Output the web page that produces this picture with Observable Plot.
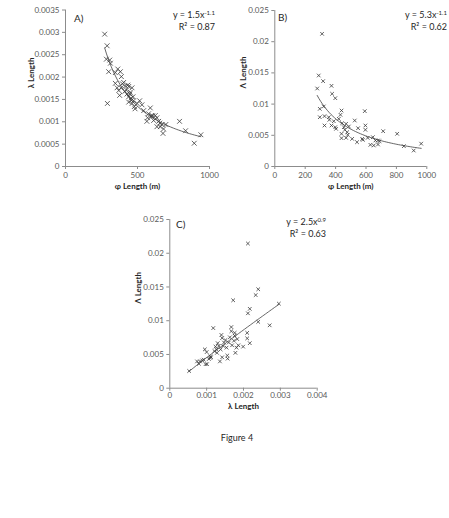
<!DOCTYPE html>
<html>
<head>
<meta charset="utf-8">
<script src="https://cdn.jsdelivr.net/npm/d3@7"></script>
<script src="https://cdn.jsdelivr.net/npm/@observablehq/plot@0.6"></script>
<style>
  html, body { margin: 0; padding: 0; background: #fff; }
  #wrap { position: relative; width: 449px; height: 518px; background: #fff; font-family: Lato, "Open Sans", sans-serif; color: #262626; }
  .panel { position: absolute; }
  .lbl { position: absolute; font-size: 10px; color: #262626; }
  .eq { position: absolute; font-size: 9px; line-height: 12px; text-align: right; color: #262626; white-space: nowrap; }
  .eq sup { font-size: 6px; vertical-align: 3px; line-height: 0; }
  #fig { position: absolute; top: 432px; left: 0; width: 474px; text-align: center; font-size: 9px; color: #262626; }
</style>
</head>
<body>
<div id="wrap"></div>
<script>
// ---------- Data ----------
// Panel A: φ Length (m) vs λ Length
const phiA = [272,289,284,307,312,300,291,346,363,381,388,346,358,386,370,376,404,416,423,439,450,462,427,439,455,469,439,462,473,478,483,497,515,531,543,565,589,577,600,570,612,635,647,658,670,681,677,635,697,624,792,834,894,940,395,412,433,447,458,595,605,655];
const lambdaA = [0.00296,0.0027,0.0024,0.00238,0.00231,0.00212,0.00141,0.0021,0.00218,0.00212,0.00201,0.00186,0.00176,0.00176,0.0017,0.00159,0.00188,0.0018,0.00171,0.00179,0.00166,0.00176,0.00162,0.00156,0.00153,0.00156,0.00144,0.00141,0.00147,0.00134,0.00129,0.00141,0.00147,0.00138,0.00125,0.00101,0.00131,0.00118,0.00114,0.00109,0.00103,0.00109,0.00101,0.00089,0.00094,0.00084,0.00074,0.00089,0.00094,0.00114,0.00101,0.0008,0.00052,0.00071,0.00185,0.00168,0.00182,0.00162,0.00148,0.00112,0.00113,0.00097];

// Panel B: φ Length (m) vs Λ Length
const phiB = [279,289,311,318,296,296,322,327,327,373,377,398,355,359,373,388,398,403,421,432,439,443,439,439,454,461,469,476,480,487,469,509,526,541,548,575,579,592,596,596,611,629,645,651,662,679,679,689,713,805,849,914,963];
const LambdaB = [0.0125,0.01458,0.02126,0.01368,0.00924,0.0079,0.00962,0.00807,0.00657,0.01293,0.01165,0.01095,0.0079,0.00748,0.00657,0.00726,0.0063,0.00604,0.00764,0.00828,0.00897,0.00694,0.00524,0.00454,0.0063,0.00588,0.00684,0.0055,0.00507,0.00641,0.00459,0.00443,0.00737,0.0039,0.00614,0.00443,0.00427,0.00887,0.00657,0.00588,0.00459,0.00347,0.0047,0.00337,0.00417,0.00417,0.00353,0.00406,0.00566,0.00524,0.00326,0.00256,0.00366];

// Panel C: λ Length vs Λ Length
const lambdaC = [0.000525,0.00074,0.00079,0.00082,0.00088,0.00092,0.00095,0.001,0.00097,0.00101,0.00106,0.0011,0.0011,0.00112,0.00118,0.00121,0.00124,0.00127,0.00128,0.0013,0.00133,0.00136,0.00138,0.0014,0.00142,0.00142,0.00145,0.00147,0.00151,0.00154,0.00156,0.00157,0.0016,0.00163,0.00167,0.00167,0.00169,0.00172,0.00174,0.00176,0.00176,0.00178,0.00181,0.00183,0.00186,0.00199,0.0021,0.0021,0.00212,0.00212,0.00217,0.00217,0.00233,0.0024,0.0024,0.00271,0.00296];
const LambdaC = [0.00255,0.00397,0.00362,0.00397,0.00412,0.00423,0.00575,0.00535,0.00356,0.00356,0.00433,0.00448,0.00473,0.0046,0.00891,0.0055,0.00616,0.00575,0.00524,0.00667,0.00626,0.00397,0.00575,0.00789,0.00743,0.00458,0.00626,0.00677,0.00713,0.00601,0.00484,0.00438,0.00677,0.00754,0.00845,0.00906,0.00636,0.01303,0.00703,0.00779,0.0082,0.00524,0.00601,0.00728,0.00636,0.00616,0.0082,0.00738,0.0111,0.02144,0.01176,0.00667,0.0138,0.01466,0.00983,0.00932,0.01253];

// Axis ticks and labels
const xTicksPhi = [0, 500, 1000];
const xTicksPhiB = [0, 200, 400, 600, 800, 1000];
const yTicksA = [0, 0.0005, 0.001, 0.0015, 0.002, 0.0025, 0.003, 0.0035];
const yTicksB = [0, 0.005, 0.01, 0.015, 0.02, 0.025];
const xTicksC = [0, 0.001, 0.002, 0.003, 0.004];
const panelLabels = ["A)", "B)", "C)"];
const equations = [["1.5", "-1.1", "0.87"], ["5.3", "-1.1", "0.62"], ["2.5", "0.9", "0.63"]];
const axisTitles = { phi: "φ Length (m)", lambda: "λ Length", Lambda: "Λ Length" };
const figureCaption = "Figure 4";

// ---------- Helpers ----------
function powerFit(xs, ys) {
  const lx = xs.map(Math.log), ly = ys.map(Math.log);
  const mx = d3.mean(lx), my = d3.mean(ly);
  let num = 0, den = 0;
  for (let i = 0; i < lx.length; i++) { num += (lx[i]-mx)*(ly[i]-my); den += (lx[i]-mx)**2; }
  const b = num/den, a = Math.exp(my - b*mx);
  const [x0, x1] = d3.extent(xs);
  return d3.range(0, 61).map(i => { const x = x0 + (x1-x0)*i/60; return {x, y: a*Math.pow(x, b)}; });
}
const fmt = d => d === 0 ? "0" : String(+d.toPrecision(6));
const TICK = "#595959", AXIS = "#8c8c8c", MARK = "#3a3a3a";

function panel({xs, ys, xDomain, yDomain, xTicks, yTicks, xTitle, yTitle, width, height, ml, mr, mt, mb, r, yTitleDx, xTitleDy, xPad}) {
  const data = xs.map((x, i) => ({x, y: ys[i]}));
  const fit = powerFit(xs, ys);
  return Plot.plot({
    width, height, marginLeft: ml, marginRight: mr, marginTop: mt, marginBottom: mb,
    style: { fontFamily: "Lato, 'Open Sans', sans-serif", fontSize: "8px", background: "transparent", overflow: "visible" },
    x: { domain: xDomain, axis: null },
    y: { domain: yDomain, axis: null },
    marks: [
      Plot.ruleY([yDomain[0]], { stroke: AXIS, strokeWidth: 1 }),
      Plot.ruleX([xDomain[0]], { stroke: AXIS, strokeWidth: 1 }),
      Plot.axisX({ ticks: xTicks, tickFormat: fmt, tickSize: 3, stroke: AXIS, color: TICK, tickPadding: xPad, label: null }),
      Plot.axisY({ ticks: yTicks, tickFormat: fmt, tickSize: 3, stroke: AXIS, color: TICK, tickPadding: 3, label: null }),
      Plot.line(fit, { x: "x", y: "y", stroke: "#404040", strokeWidth: 0.8 }),
      Plot.dot(data, { x: "x", y: "y", symbol: "times", r, stroke: MARK, strokeWidth: 0.8 }),
      Plot.text([xTitle], { frameAnchor: "bottom", dy: xTitleDy, text: d => d, fontWeight: "bold", fill: "#262626", fontSize: 8 }),
      Plot.text([yTitle], { frameAnchor: "left", dx: yTitleDx, rotate: -90, text: d => d, fontWeight: "bold", fill: "#262626", fontSize: 8 })
    ]
  });
}

const wrap = document.getElementById("wrap");
function place(node, left, top) {
  node.classList.add("panel");
  node.style.left = left + "px";
  node.style.top = top + "px";
  wrap.appendChild(node);
}

// Panel A
place(panel({ xs: phiA, ys: lambdaA, xDomain: [0, 1000], yDomain: [0, 0.0035], xTicks: xTicksPhi, yTicks: yTicksA,
  xTitle: axisTitles.phi, yTitle: axisTitles.lambda, width: 225, height: 195, ml: 65, mr: 16, mt: 9.5, mb: 29, r: 2.3,
  yTitleDx: -34, xTitleDy: 22, xPad: 3 }), 0, 0);
// Panel B
place(panel({ xs: phiB, ys: LambdaB, xDomain: [0, 1000], yDomain: [0, 0.025], xTicks: xTicksPhiB, yTicks: yTicksB,
  xTitle: axisTitles.phi, yTitle: axisTitles.Lambda, width: 224, height: 195, ml: 49.3, mr: 22.7, mt: 10, mb: 29, r: 1.8,
  yTitleDx: -31, xTitleDy: 22, xPad: 3 }), 225, 0);
// Panel C
place(panel({ xs: lambdaC, ys: LambdaC, xDomain: [0, 0.004], yDomain: [0, 0.025], xTicks: xTicksC, yTicks: yTicksB,
  xTitle: axisTitles.lambda, yTitle: axisTitles.Lambda, width: 230, height: 205, ml: 59.3, mr: 23.3, mt: 14, mb: 22.3, r: 1.8,
  yTitleDx: -31, xTitleDy: 20.5, xPad: 1.5 }), 110, 205);

// Annotations
const letterPos = [[74, 12], [278, 11], [176, 218]];
panelLabels.forEach((t, i) => {
  const d = document.createElement("div");
  d.className = "lbl"; d.textContent = t;
  d.style.left = letterPos[i][0] + "px"; d.style.top = letterPos[i][1] + "px";
  wrap.appendChild(d);
});
const eqPos = [[449 - 215, 9], [2, 9], [449 - 326, 216]];
equations.forEach(([a, b, r2], i) => {
  const d = document.createElement("div");
  d.className = "eq";
  d.innerHTML = `y = ${a}x<sup>${b}</sup><br>R² = ${r2}`;
  d.style.right = eqPos[i][0] + "px"; d.style.top = eqPos[i][1] + "px";
  wrap.appendChild(d);
});
const cap = document.createElement("div");
cap.id = "fig"; cap.textContent = figureCaption;
wrap.appendChild(cap);
</script>
</body>
</html>
